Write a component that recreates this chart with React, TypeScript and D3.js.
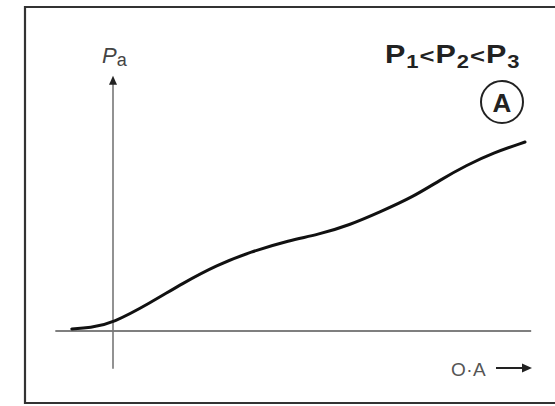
import { useEffect, useRef } from "react";
import * as d3 from "d3";

// curve of P_a against O·A (arbitrary units, origin at the axis crossing)
const curveX = [-10, -5.6, 0, 9, 17, 25.2, 33.3, 43, 49.5, 57.5, 64.8, 72.8, 79.4, 85.9, 92.2, 100];
const curveY = [1.1, 1.6, 4.2, 14.8, 25.4, 34.9, 41.8, 48.1, 50.8, 56.1, 63, 70.9, 79.9, 87.8, 94.2, 100];

const xAxisExtent = [-14, 101.5];
const yAxisExtent = [-20, 135];

const yLabel = "P";
const ySub = "a";
const xLabel = "O·A";
const pressures = ["1", "2", "3"];
const panelTag = "A";

export default function App() {
  const ref = useRef<SVGSVGElement | null>(null);

  useEffect(() => {
    if (!ref.current) return;
    const width = 555;
    const height = 406;

    const svg = d3.select(ref.current);
    svg.selectAll("*").remove();
    svg.attr("width", width).attr("height", height);

    const x = d3.scaleLinear().domain([0, 100]).range([113, 525]);
    const y = d3.scaleLinear().domain([0, 100]).range([331, 142]);

    svg.append("rect").attr("width", width).attr("height", height).attr("fill", "#fff");

    // frame (right side runs off the picture)
    svg
      .append("path")
      .attr("d", "M560,7 H25 V403 H560")
      .attr("fill", "none")
      .attr("stroke", "#333")
      .attr("stroke-width", 2.2);

    // axes
    svg
      .append("line")
      .attr("x1", x(xAxisExtent[0]))
      .attr("x2", x(xAxisExtent[1]))
      .attr("y1", y(0))
      .attr("y2", y(0))
      .attr("stroke", "#555")
      .attr("stroke-width", 1.6);

    svg
      .append("line")
      .attr("x1", x(0))
      .attr("x2", x(0))
      .attr("y1", y(yAxisExtent[0]))
      .attr("y2", y(yAxisExtent[1]) + 6)
      .attr("stroke", "#777")
      .attr("stroke-width", 1.6);

    const tipY = y(yAxisExtent[1]);
    svg
      .append("path")
      .attr("d", `M${x(0)},${tipY} L${x(0) - 4},${tipY + 9} L${x(0) + 4},${tipY + 9} Z`)
      .attr("fill", "#222");

    // y label
    const yl = svg
      .append("text")
      .attr("x", x(0) - 11)
      .attr("y", 63)
      .attr("font-family", "Liberation Sans, Arial, sans-serif")
      .attr("font-style", "italic")
      .attr("font-size", 22)
      .attr("fill", "#444");
    yl.append("tspan").text(yLabel);
    yl.append("tspan").attr("font-size", 18).attr("font-style", "normal").attr("dy", 3).text(ySub);

    // curve
    const pts: [number, number][] = curveX.map((v, i) => [v, curveY[i]]);
    const line = d3
      .line<[number, number]>()
      .x((d) => x(d[0]))
      .y((d) => y(d[1]))
      .curve(d3.curveBasis);
    svg
      .append("path")
      .attr("d", line(pts))
      .attr("fill", "none")
      .attr("stroke", "#111")
      .attr("stroke-width", 3)
      .attr("stroke-linecap", "round");

    // x label with arrow
    svg
      .append("text")
      .attr("x", 451)
      .attr("y", 376)
      .attr("font-family", "Liberation Sans, Arial, sans-serif")
      .attr("font-size", 19)
      .attr("letter-spacing", 0.5)
      .attr("fill", "#555")
      .text(xLabel);
    svg
      .append("line")
      .attr("x1", 496)
      .attr("x2", 524)
      .attr("y1", 368)
      .attr("y2", 368)
      .attr("stroke", "#222")
      .attr("stroke-width", 2);
    svg
      .append("path")
      .attr("d", "M532,368 L522,363.5 L522,372.5 Z")
      .attr("fill", "#222");

    // pressure ordering (glyphs stretched horizontally like the original lettering)
    const pt = svg
      .append("text")
      .attr("transform", "translate(385,63) scale(1.22,1)")
      .attr("font-family", "Liberation Sans, Arial, sans-serif")
      .attr("font-weight", "bold")
      .attr("font-size", 25)
      .attr("letter-spacing", 0.8)
      .attr("fill", "#222");
    pressures.forEach((p, i) => {
      pt.append("tspan").text("P");
      pt.append("tspan").attr("font-size", 18).attr("dy", 5).text(p);
      if (i < pressures.length - 1) pt.append("tspan").attr("dy", -5).attr("font-size", 21).text("<");
    });

    // circled panel tag
    svg
      .append("circle")
      .attr("cx", 502)
      .attr("cy", 102)
      .attr("r", 21)
      .attr("fill", "none")
      .attr("stroke", "#222")
      .attr("stroke-width", 2);
    svg
      .append("text")
      .attr("x", 502)
      .attr("y", 111.5)
      .attr("text-anchor", "middle")
      .attr("font-family", "Liberation Sans, Arial, sans-serif")
      .attr("font-weight", "bold")
      .attr("font-size", 26)
      .attr("fill", "#222")
      .text(panelTag);
  }, []);

  return <svg ref={ref} style={{ position: "absolute", left: 0, top: 0 }} />;
}
